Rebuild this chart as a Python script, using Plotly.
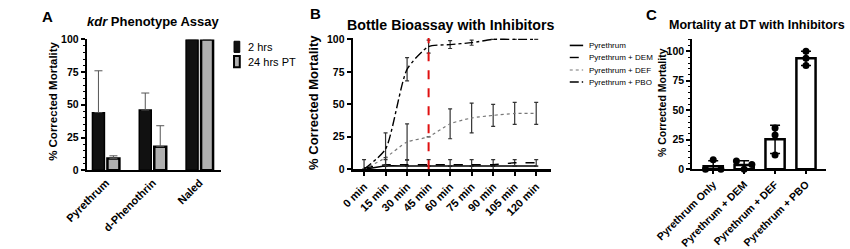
import plotly.graph_objects as go
import statistics

W, H = 850, 249

# ---------------- DATA ----------------
# Panel A
a_categories = ["Pyrethrum", "d-Phenothrin", "Naled"]
a_2hrs = [44, 46, 100]
a_2hrs_err = [32, 13, 0]
a_24hrs = [9, 18, 100]
a_24hrs_err = [2, 16, 0]

# Panel B
b_times = ["0 min", "15 min", "30 min", "45 min", "60 min", "75 min", "90 min", "105 min", "120 min"]
b_pyr = [0, 2.5, 2.5, 2.5, 2.5, 2.5, 2.5, 2.5, 2.5]
b_pyr_err = [0, 0, 0, 0, 0, 0, 0, 0, 0]
b_dem = [1, 3.5, 3.5, 3.5, 3.5, 3.5, 3.5, 5, 5]
b_dem_err = [6.5, 4, 4, 4, 4, 4, 4, 2.5, 2.5]
b_def = [0, 9, 21, 25, 35, 39.5, 41.5, 43, 43]
b_def_err = [0, 0, 14, 0, 11.5, 11.5, 8.5, 8.5, 8.5]
b_pbo = [0, 15.5, 77, 94.5, 96, 97.5, 100, 100, 100]
b_pbo_err = [0, 12.5, 9, 5, 3, 2, 0, 0, 0]
b_diag_time = 3  # index of 45 min (diagnostic time)

# Panel C
c_categories = ["Pyrethrum Only", "Pyrethrum + DEM", "Pyrethrum + DEF", "Pyrethrum + PBO"]
c_reps = [[0, 8, 0], [7, 0, 4], [35, 29, 12], [100, 94, 88]]

# ---------------- HELPERS ----------------
def px_x(p):
    return p / W

def px_y(p):
    return 1 - p / H

FONT = "Liberation Sans, Arial, sans-serif"

def bold(size):
    return dict(family=FONT, size=size, color="black", weight="bold")

c_mean = [sum(r) / len(r) for r in c_reps]
c_sd = [statistics.stdev(r) for r in c_reps]

def swarm(vals, tol=5.0, half=0.25):
    """Spread overlapping points horizontally (Prism-like scatter)."""
    n = len(vals)
    parent = list(range(n))
    def find(i):
        while parent[i] != i:
            i = parent[i]
        return i
    for i in range(n):
        for j in range(i + 1, n):
            if abs(vals[i] - vals[j]) < tol:
                parent[find(j)] = find(i)
    clusters = {}
    for i in range(n):
        clusters.setdefault(find(i), []).append(i)
    offs = [0.0] * n
    for members in clusters.values():
        m = len(members)
        if m > 1:
            for k, idx in enumerate(members):
                offs[idx] = -half + 2 * half * k / (m - 1)
    return offs

fig = go.Figure()

# ---------------- PANEL A ----------------
fig.add_trace(go.Bar(
    x=a_categories, y=a_2hrs, name="2 hrs", xaxis="x", yaxis="y",
    marker=dict(color="#111111", line=dict(color="black", width=1.5)),
    error_y=dict(type="data", symmetric=False, array=a_2hrs_err, arrayminus=[0] * 3,
                 color="#555555", thickness=1, width=4),
    showlegend=False,
))
fig.add_trace(go.Bar(
    x=a_categories, y=a_24hrs, name="24 hrs PT", xaxis="x", yaxis="y",
    marker=dict(color="#b0b0b0", line=dict(color="black", width=2.5)),
    error_y=dict(type="data", symmetric=False, array=a_24hrs_err, arrayminus=[0] * 3,
                 color="#555555", thickness=1, width=4),
    showlegend=False,
))

# ---------------- PANEL B ----------------
bx = list(range(len(b_times)))
b_series = [
    ("Pyrethrum", b_pyr, b_pyr_err, "solid", "black", 1.6),
    ("Pyrethrum + DEM", b_dem, b_dem_err, "dash", "black", 1.4),
    ("Pyrethrum + DEF", b_def, b_def_err, "dot", "#777777", 1.2),
    ("Pyrethrum + PBO", b_pbo, b_pbo_err, "dashdot", "black", 1.4),
]
for name, vals, err, dash, col, lw in b_series:
    fig.add_trace(go.Scatter(
        x=bx, y=vals, name=name, mode="lines", xaxis="x2", yaxis="y2",
        line=dict(color=col, dash=dash, width=lw, shape="spline", smoothing=0.6),
        error_y=dict(type="data", array=err, color="#333333", thickness=1.2, width=2),
        showlegend=False,
    ))

# ---------------- PANEL C ----------------
cx = list(range(len(c_categories)))
fig.add_trace(go.Bar(
    x=cx, y=c_mean, xaxis="x3", yaxis="y3", width=0.62,
    marker=dict(color="white", line=dict(color="black", width=2.5)),
    error_y=dict(type="data", array=c_sd, color="black", thickness=1.5, width=5),
    showlegend=False,
))
dx, dy = [], []
for i, reps in enumerate(c_reps):
    offs = swarm(reps)
    for v, o in zip(reps, offs):
        dx.append(i + o)
        dy.append(v)
fig.add_trace(go.Scatter(
    x=dx, y=dy, mode="markers", xaxis="x3", yaxis="y3",
    marker=dict(color="black", size=7), showlegend=False, cliponaxis=False,
))

# red dashed line at diagnostic time
fig.add_shape(type="line", xref="x2", yref="y2 domain", x0=b_diag_time, x1=b_diag_time,
              y0=0, y1=1, line=dict(color="#e01010", width=2, dash="dash"), layer="above")

# ---------------- AXES ----------------
def axis_common(tsize=10.5, lw=2):
    return dict(showgrid=False, zeroline=False, showline=True, linecolor="black",
                linewidth=lw, tickfont=bold(tsize), tickcolor="black")

fig.update_layout(
    width=W, height=H, margin=dict(l=0, r=0, t=0, b=0),
    paper_bgcolor="white", plot_bgcolor="white",
    barmode="group", bargap=0.36, bargroupgap=0.2,
    font=dict(family=FONT, color="black"),
    xaxis=dict(domain=[px_x(52), px_x(192)], anchor="y", ticks="", tickangle=-45,
               range=[-0.41, 2.45], **axis_common(11)),
    yaxis=dict(domain=[px_y(177), px_y(36)], anchor="x", range=[0, 100],
               tickvals=[0, 25, 50, 75, 100], ticks="outside", ticklen=4, tickwidth=1.5,
               minor=dict(ticks="outside", ticklen=2, dtick=5, tickcolor="black", tickwidth=1),
               **axis_common(10.5)),
    xaxis2=dict(domain=[px_x(330), px_x(537)], anchor="y2", range=[-0.53, 8.67],
                tickvals=bx, ticktext=b_times, tickangle=-45, ticks="outside", ticklen=4,
                tickwidth=1.5, **axis_common(11, 2.5)),
    yaxis2=dict(domain=[px_y(176), px_y(34.6)], anchor="x2", range=[0, 101],
                tickvals=[0, 25, 50, 75, 100], ticks="outside", ticklen=4, tickwidth=1.5,
                **axis_common(10.5)),
    xaxis3=dict(domain=[px_x(685), px_x(825)], anchor="y3", range=[-0.68, 3.65],
                tickvals=cx, ticktext=c_categories, tickangle=-45, ticks="outside",
                ticklen=3, tickwidth=1.5, **axis_common(10.5)),
    yaxis3=dict(domain=[px_y(176), px_y(36)], anchor="x3", range=[0, 110],
                tickvals=[0, 25, 50, 75, 100], ticks="outside", ticklen=4, tickwidth=1.5,
                minor=dict(ticks="outside", ticklen=2, dtick=5, tickcolor="black", tickwidth=1),
                **axis_common(10.5)),
)

# ---------------- TEXT ----------------
def ann(text, x, y, size, is_bold=True, angle=0, xanchor="center", yanchor="middle"):
    fig.add_annotation(text=text, x=px_x(x), y=px_y(y), xref="paper", yref="paper",
                       showarrow=False, textangle=angle, xanchor=xanchor, yanchor=yanchor,
                       font=dict(family=FONT, size=size, color="black",
                                 weight="bold" if is_bold else "normal"))

ann("A", 11, 11, 15)
ann("B", 291, 8, 15)
ann("C", 642, 9, 15)
ann("<i>kdr</i> Phenotype Assay", 122, 17, 13)
ann("Bottle Bioassay with Inhibitors", 432, 20, 14.2)
ann("Mortality at DT with Inhibitors", 753, 20, 12.5)
ann("% Corrected Mortality", 16, 103, 11.5, angle=-90)
ann("% Corrected Mortality", 289, 104, 13, angle=-90)
ann("% Corrected Mortality", 654, 104, 10.5, angle=-90)

# Legend A
fig.add_shape(type="rect", xref="paper", yref="paper", x0=px_x(206), x1=px_x(212),
              y0=px_y(50), y1=px_y(38), fillcolor="#111111", line=dict(color="black", width=1))
fig.add_shape(type="rect", xref="paper", yref="paper", x0=px_x(206), x1=px_x(212),
              y0=px_y(66), y1=px_y(54), fillcolor="#b0b0b0", line=dict(color="black", width=2))
ann("2 hrs", 218, 44, 11, is_bold=False, xanchor="left")
ann("24 hrs PT", 218, 60, 11, is_bold=False, xanchor="left")

# Legend B
leg_y = [42.5, 55.5, 69, 82]
for (name, vals, err, dash, col, lw), ly in zip(b_series, leg_y):
    fig.add_shape(type="line", xref="paper", yref="paper", x0=px_x(557), x1=px_x(571),
                  y0=px_y(ly), y1=px_y(ly), line=dict(color=col, dash=dash, width=lw))
    ann(name, 575, ly, 8, is_bold=False, xanchor="left")

fig.write_html("out.html")
